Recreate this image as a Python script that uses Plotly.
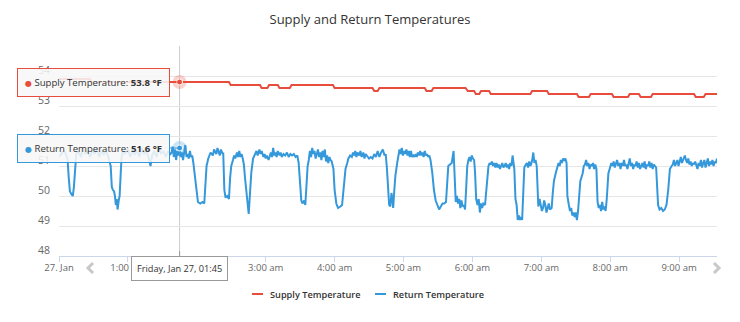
import numpy as np
import pandas as pd
import plotly.graph_objects as go

# ---------------- data (minutes after 2017-01-27 00:00, value in °F) ----------------
BASE_DAY = "2017-01-27"
HOVER_MIN = 105  # Friday, Jan 27, 01:45

supply_readings = [
    (0, 53.9), (27, 53.9), (28.5, 53.8), (148, 53.8), (149.5, 53.7), (175, 53.7),
    (176.5, 53.6), (181.5, 53.6), (183, 53.7), (190.5, 53.7), (192, 53.6), (201, 53.6),
    (202.5, 53.7), (238.5, 53.7), (240, 53.6), (273, 53.6), (274.5, 53.5), (277.5, 53.5),
    (279, 53.6), (318.5, 53.6), (320, 53.5), (324.5, 53.5), (326, 53.6), (354, 53.6),
    (356, 53.5), (361.5, 53.5), (363, 53.4), (366, 53.4), (367.5, 53.5), (374.5, 53.5),
    (376, 53.4), (410.5, 53.4), (412, 53.5), (425, 53.5), (426.5, 53.4), (451, 53.4),
    (452.5, 53.3), (461.5, 53.3), (463, 53.4), (481.5, 53.4), (483, 53.3), (495.5, 53.3),
    (497, 53.4), (505, 53.4), (506.5, 53.3), (515.5, 53.3), (517, 53.4), (553, 53.4),
    (554.5, 53.3), (561.5, 53.3), (563, 53.4), (573, 53.4),
]

return_readings = [
    (0, 51.3), (2, 51.4), (4, 51.5), (6, 51.4), (7.5, 51.2),
    (8.5, 50.6), (9.5, 50.15), (11, 50.05), (12, 50.0), (13, 50.3), (14, 51.0), (15, 51.4),
    (17, 51.5), (19, 51.3), (21, 51.6), (23, 51.4), (25, 51.5), (27, 51.3), (29, 51.5),
    (31, 51.4), (33, 51.6), (35, 51.3), (37, 51.5), (39, 51.4), (41, 51.5), (43, 51.3),
    (45, 51.0), (46, 50.3), (47, 50.2), (48, 50.15), (48.7, 50.0), (49.5, 49.7), (50.3, 49.9),
    (51, 49.55), (52, 49.85), (52.8, 50.0), (53.8, 50.8), (54.5, 51.3),
    (56, 51.5), (58, 51.4), (60, 51.6), (62, 51.3), (64, 51.5), (66, 51.4), (68, 51.5),
    (70, 51.3), (72, 51.6), (74, 51.4), (76, 51.5), (78, 51.3), (79.7, 51.0), (81, 51.35),
    (83, 51.5), (85, 51.3), (87, 51.6), (89, 51.4), (91, 51.5), (93, 51.3), (95, 51.5),
    (97, 51.4), (98, 51.45), (99, 51.65), (100, 51.3), (101, 51.55), (102, 51.2), (103, 51.5),
    (104, 51.35), (105, 51.6), (106, 51.3), (107, 51.45), (108, 51.2), (109, 51.5), (110, 51.7),
    (111, 51.3), (112, 51.4), (113, 51.25), (114, 51.5), (115, 51.3), (116, 51.35), (117, 51.1),
    (118.5, 50.6), (120, 50.0), (121, 49.8), (123, 49.75), (125, 49.8), (126.5, 49.75),
    (127.5, 50.4), (128.5, 51.0),
    (130, 51.25), (132, 51.45), (134, 51.35), (135, 51.55), (137, 51.4), (138, 51.6),
    (140, 51.35), (141, 51.55), (142.5, 51.4), (143, 51.45),
    (144, 50.2), (145, 49.95), (146.5, 50.0), (148, 49.9), (149, 50.6), (150, 51.0),
    (151.5, 51.2), (152.5, 51.35), (153.5, 51.25), (155, 51.45), (156, 51.3), (157, 51.5),
    (158, 51.3), (159, 51.4), (160, 51.25),
    (161, 51.05), (162, 50.6), (163.5, 50.1), (165.2, 49.4), (166.5, 50.2), (167.5, 50.8),
    (169, 51.25), (170, 51.35), (171, 51.45), (172, 51.5), (173, 51.35), (174.5, 51.55),
    (175.5, 51.4), (176.5, 51.5), (178, 51.3), (179, 51.4), (180, 51.25), (181, 51.35),
    (182.5, 51.2), (183.5, 51.3), (184.5, 51.45), (185.5, 51.3), (186.5, 51.6), (187.5, 51.35),
    (188.5, 51.45), (189.5, 51.3), (190.5, 51.5), (192, 51.35), (193, 51.45), (194, 51.3),
    (195.5, 51.4), (197, 51.35), (198.5, 51.45), (200, 51.3), (201.5, 51.4), (203, 51.35),
    (204.5, 51.4), (206, 51.3), (207.5, 51.35),
    (208.7, 51.1), (210, 50.3), (211, 49.85), (212, 49.75), (213.5, 49.85), (214.5, 49.7),
    (215.5, 50.5), (216.5, 51.0), (217.5, 51.2),
    (218.5, 51.5), (219.5, 51.3), (220.5, 51.6), (221.5, 51.4), (222.5, 51.5), (223.5, 51.25),
    (224.5, 51.45), (225.5, 51.55), (226.5, 51.3), (227.5, 51.45), (228.5, 51.2), (229.5, 51.5),
    (230.5, 51.3), (231.5, 51.55), (232.5, 51.15), (233.5, 51.35), (234.5, 51.1), (235.5, 51.3),
    (236.5, 51.2), (237.5, 51.15),
    (239, 50.9), (240, 50.2), (241.5, 49.75), (243, 49.6), (245, 49.65), (246.5, 49.7),
    (248, 50.3), (249.5, 50.9), (251, 51.1),
    (252, 51.25), (253.5, 51.35), (255, 51.3), (256, 51.45), (257, 51.35), (258, 51.5),
    (259, 51.3), (260, 51.45), (261.5, 51.35), (262.5, 51.5), (263.5, 51.3), (265, 51.45),
    (266, 51.25), (267, 51.4), (268.5, 51.3), (270, 51.25), (271.5, 51.3), (273, 51.25),
    (274.5, 51.4), (276, 51.3), (277.5, 51.5), (279, 51.3), (280.5, 51.45), (282, 51.55),
    (283.5, 51.35), (284.5, 51.4),
    (285.6, 50.9), (286.5, 50.3), (287.5, 49.7), (288.5, 49.65), (289.5, 50.1), (290.3, 49.9),
    (291, 49.6), (292, 50.2), (293, 50.7), (294.5, 51.1), (295.5, 51.35),
    (296.5, 51.55), (297.5, 51.4), (298.5, 51.6), (299.5, 51.35), (300.5, 51.5), (301.5, 51.4),
    (302.5, 51.55), (303.5, 51.35), (304.5, 51.5), (305.5, 51.3), (306.5, 51.5), (307.5, 51.3),
    (308.5, 51.35), (309.5, 51.3), (310.5, 51.4), (311.5, 51.3), (312.5, 51.45), (313.5, 51.35),
    (314.5, 51.5), (315.5, 51.35), (316.5, 51.45), (317.5, 51.3), (318.5, 51.5), (319.5, 51.35),
    (320.5, 51.4), (321.5, 51.3), (322.5, 51.35), (323.5, 51.2),
    (325, 50.8), (326.5, 50.2), (328, 49.85), (329.5, 49.7), (331, 49.55), (332.5, 49.65),
    (334, 49.75), (335.5, 49.75), (337, 49.8), (338, 50.4), (339, 51.0), (340.5, 51.05),
    (342, 51.1), (343.6, 51.5),
    (344.5, 50.9), (345.5, 49.8), (346.5, 50.0), (347.5, 49.75), (348.5, 49.9), (349.5, 49.6),
    (350.5, 49.85), (351.5, 49.65), (352.5, 49.7), (353.6, 49.55), (354.5, 50.2), (355.5, 51.0),
    (356.5, 51.2), (357.5, 51.3), (358.5, 51.15), (359.5, 51.35), (360.5, 51.25), (361.5, 51.2),
    (362.3, 50.8), (363.3, 49.9), (364.5, 49.7), (365.5, 49.9), (366.5, 49.45), (367.5, 49.75),
    (368.5, 49.6), (369.5, 49.75), (371, 49.7), (372.5, 50.5), (374, 51.0), (375, 51.1),
    (376, 51.05), (377, 51.15), (378, 51.0), (379, 51.1), (380, 50.95), (381, 51.1),
    (382, 50.95), (383, 51.05), (384, 50.9), (385, 51.0), (386, 51.1), (387, 50.95),
    (388, 51.0), (389, 51.1), (390, 50.95), (391, 51.05), (392, 50.9), (393, 51.1),
    (394, 51.0), (395, 51.35),
    (396.5, 50.9), (397.5, 49.9), (398.5, 49.7), (399.5, 49.2), (400.5, 49.35), (401.5, 49.2),
    (402.5, 49.3), (403.3, 49.2), (404.2, 50.2), (405.2, 50.95), (406.5, 51.05),
    (407.5, 51.1), (408.5, 50.95), (409.5, 51.15), (410.5, 51.0), (411.5, 51.1), (412.3, 51.25),
    (413, 51.45), (414, 51.1), (415, 51.2), (416, 51.0),
    (417.4, 49.65), (418.5, 49.9), (419.5, 49.75), (420.5, 49.5), (421.5, 49.6), (422.5, 49.85),
    (423.5, 49.7), (424.5, 49.45), (425.5, 49.6), (426.5, 49.75), (427.5, 49.55), (429, 49.6),
    (430, 50.1), (431, 50.5), (432.8, 50.8), (434, 51.0),
    (435, 51.1), (436, 51.0), (437, 51.2), (438, 51.1), (439, 51.25), (440, 51.2),
    (441, 51.25), (442, 51.1),
    (442.7, 50.0), (444, 49.7), (445, 49.5), (446, 49.6), (447, 49.35), (448, 49.45),
    (449, 49.3), (450, 49.45), (451, 49.2), (452, 49.5), (453, 50.1), (454, 50.5),
    (456, 50.75), (457, 51.0),
    (458, 51.05), (459, 51.2), (460, 51.0), (461, 51.1), (462, 50.9), (463, 51.05),
    (464, 51.0), (465, 51.1), (466, 50.9), (467, 51.05), (468, 50.9),
    (469, 49.8), (470, 49.6), (471, 49.7), (472, 49.5), (473, 49.8), (474, 49.55),
    (475, 49.65), (476, 49.5), (477, 49.9), (478.4, 50.75), (480, 51.0),
    (481, 51.1), (482, 51.0), (483, 51.15), (484, 50.95), (485, 51.1), (486, 51.2),
    (487, 51.0), (488, 51.1), (489, 50.9), (490, 51.1), (491, 51.0), (492, 51.2),
    (493, 51.0), (494, 51.05), (495, 50.9), (496, 51.1), (497, 51.25), (498, 51.0),
    (499, 51.1), (500, 50.9), (501, 51.05), (502, 51.0), (503, 51.15), (504, 50.95),
    (505, 51.1), (506, 50.9), (507, 51.05), (508, 51.1), (509, 50.95), (510, 51.15),
    (511, 50.9), (512, 51.05), (513, 51.0), (514, 51.15), (515, 50.95), (516, 51.1),
    (517, 50.9), (518, 51.05), (519, 51.0), (520, 50.95),
    (521.7, 49.7), (523, 49.55), (524.5, 49.6), (526, 49.5), (527.5, 49.55), (529, 49.7),
    (530.5, 50.2), (532, 50.9), (533.5, 51.0),
    (534.5, 51.05), (535.5, 51.2), (536.5, 51.0), (537.5, 51.1), (538.5, 51.2), (539.5, 51.0),
    (540.5, 51.15), (541.5, 51.3), (542.5, 51.1), (543.5, 51.2), (545, 51.35), (546, 51.2),
    (547, 51.1), (548, 51.25), (549, 51.05), (550, 51.15), (551, 51.0), (552, 51.1),
    (553, 51.05), (554, 51.15), (555, 51.0), (556, 50.9), (557, 51.1), (558, 51.0),
    (559, 51.2), (560, 50.95), (561, 51.1), (562, 51.2), (563, 50.95), (564, 51.1),
    (565, 51.25), (566, 51.0), (567, 51.15), (568, 51.05), (569, 51.2), (570, 51.0),
    (571, 51.15), (572, 51.1), (573, 51.25),
]

series_names = ["Supply Temperature", "Return Temperature"]
series_colors = ["#e74c3c", "#3498db"]
hour_ticks = list(range(0, 10))
hour_labels = ["27. Jan", "1:00 am", "2:00 am", "3:00 am", "4:00 am", "5:00 am",
               "6:00 am", "7:00 am", "8:00 am", "9:00 am"]
y_ticks = [48, 49, 50, 51, 52, 53, 54, 55]
y_labels = ["48", "49", "50", "51", "52", "53", "54", ""]
X_END_MIN = 573

# ---------------- helpers ----------------
base = pd.Timestamp(BASE_DAY)


def to_time(minutes):
    return base + pd.to_timedelta(minutes, unit="m")


FONT = "Open Sans, DejaVu Sans, sans-serif"
L, R, T, B = 59, 23, 46, 66
W, H = 740, 322
PW, PH = W - L - R, H - T - B


def px_x(px):
    return (px - L) / PW


def px_y(py):
    return (H - B - py) / PH


fig = go.Figure()
all_series = [supply_readings, return_readings]
hover_vals = []
for name, color, readings in zip(series_names, series_colors, all_series):
    mins = [m for m, _ in readings]
    vals = [v for _, v in readings]
    fig.add_trace(go.Scatter(x=[to_time(m) for m in mins], y=vals, mode="lines",
                             name=name, line=dict(color=color, width=2),
                             showlegend=False, hoverinfo="skip"))
    hover_vals.append(round(float(np.interp(HOVER_MIN, mins, vals)), 1))

# hover halos and markers
for color, hv in zip(series_colors, hover_vals):
    fig.add_trace(go.Scatter(x=[to_time(HOVER_MIN)], y=[hv], mode="markers",
                             marker=dict(size=14, color=color, opacity=0.25),
                             showlegend=False, hoverinfo="skip"))
    fig.add_trace(go.Scatter(x=[to_time(HOVER_MIN)], y=[hv], mode="markers",
                             marker=dict(size=6, color=color, line=dict(color="white", width=1)),
                             showlegend=False, hoverinfo="skip"))

# crosshair
fig.add_shape(type="line", xref="x", yref="paper", x0=to_time(HOVER_MIN), x1=to_time(HOVER_MIN),
              y0=0, y1=1, line=dict(color="#cccccc", width=1), layer="below")

# series tooltips
for name, color, hv in zip(series_names, series_colors, hover_vals):
    fig.add_annotation(
        x=to_time(HOVER_MIN), y=hv, xref="x", yref="y",
        text=(f"<span style='color:{color};font-size:8px'>●</span> {name}: "
              f"<b>{hv:.1f} °F</b>"),
        showarrow=True, ax=-86, ay=0, arrowhead=0, arrowwidth=1, arrowcolor=color,
        standoff=0, startstandoff=0,
        bgcolor="rgba(247,247,247,0.88)", bordercolor=color, borderwidth=1, borderpad=7,
        font=dict(family=FONT, size=9.6, color="#333333"),
    )

# x tooltip
hover_ts = to_time(HOVER_MIN)
fig.add_annotation(
    x=hover_ts, y=px_y(251), xref="x", yref="paper",
    text=hover_ts.strftime("%A, %b %d, %H:%M"),
    showarrow=True, ax=0, ay=17, arrowhead=0, arrowwidth=1, arrowcolor="#999999",
    standoff=0, startstandoff=0,
    bgcolor="rgba(255,255,255,0.95)", bordercolor="#999999", borderwidth=1, borderpad=5,
    font=dict(family=FONT, size=9.2, color="#333333"),
)

# navigation chevrons
fig.add_shape(type="path", xref="paper", yref="paper",
              path=f"M {px_x(93)},{px_y(263)} L {px_x(88)},{px_y(268)} L {px_x(93)},{px_y(273)}",
              line=dict(color="#c8c8c8", width=3))
fig.add_shape(type="path", xref="paper", yref="paper",
              path=f"M {px_x(714)},{px_y(263)} L {px_x(719)},{px_y(268)} L {px_x(714)},{px_y(273)}",
              line=dict(color="#c8c8c8", width=3))

# custom legend
legend_pos = [(252, 268), (375, 391)]
for (sx, tx), name, color in zip(legend_pos, series_names, series_colors):
    fig.add_shape(type="line", xref="paper", yref="paper", x0=px_x(sx), x1=px_x(sx + 11),
                  y0=px_y(294), y1=px_y(294), line=dict(color=color, width=2))
    fig.add_annotation(x=px_x(tx), y=px_y(294), xref="paper", yref="paper", text=name,
                       showarrow=False, xanchor="left", yanchor="middle",
                       font=dict(family=FONT, size=9.2, color="#333333", weight=600))

fig.update_layout(
    width=W, height=H, margin=dict(l=L, r=R, t=T, b=B),
    paper_bgcolor="white", plot_bgcolor="white",
    title=dict(text="Supply and Return Temperatures", x=0.5, xref="container", xanchor="center",
               y=1 - 19 / H, yref="container", yanchor="middle",
               font=dict(family=FONT, size=13, color="#333333")),
    showlegend=False,
    xaxis=dict(range=[to_time(0), to_time(X_END_MIN)], tickvals=[to_time(h * 60) for h in hour_ticks],
               ticktext=hour_labels, showgrid=False, zeroline=False, showline=True,
               linecolor="#ccd6eb", linewidth=1, ticks="outside", ticklen=5, tickcolor="#ccd6eb",
               ticklabelstandoff=-2,
               tickfont=dict(family=FONT, size=9.5, color="#666666")),
    yaxis=dict(range=[48, 55], tickvals=y_ticks, ticktext=y_labels, showgrid=True,
               gridcolor="#e6e6e6", gridwidth=1, zeroline=False, showline=False,
               ticklabelstandoff=8, ticklabelshift=-6,
               tickfont=dict(family=FONT, size=10.5, color="#666666")),
)

fig.write_html("out.html")
